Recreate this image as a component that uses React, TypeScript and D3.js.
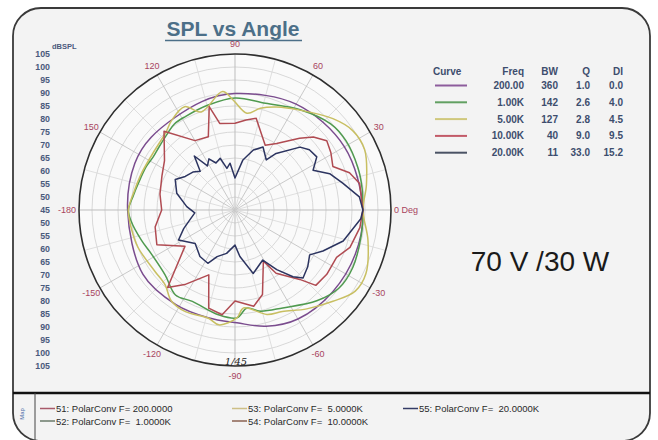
import React from "react";
import * as d3 from "d3";

const W = 658;
const H = 440;
const cx = 235;
const cy = 210;
const R = 156;
const font = "'Liberation Sans', Arial, sans-serif";

// radial dB ticks (center = 45, outer ring = 105)
const dbTicks = [45, 50, 55, 60, 65, 70, 75, 80, 85, 90, 95, 100, 105];
const angleLabels = [
  { a: 90, t: "90" },
  { a: 60, t: "60" },
  { a: 30, t: "30" },
  { a: 0, t: "0 Deg" },
  { a: -30, t: "-30" },
  { a: -60, t: "-60" },
  { a: -90, t: "-90" },
  { a: -120, t: "-120" },
  { a: -150, t: "-150" },
  { a: -180, t: "-180" },
  { a: 150, t: "150" },
  { a: 120, t: "120" },
];

// table at top right
const freqLabels = ["200.00", "1.00K", "5.00K", "10.00K", "20.00K"];
const bwValues = ["360", "142", "127", "40", "11"];
const qValues = ["1.0", "2.6", "2.8", "9.0", "33.0"];
const diValues = ["0.0", "4.0", "4.5", "9.5", "15.2"];
const curveColors = ["#7a4c8e", "#4f9a4f", "#c8bf62", "#b04b52", "#2c3460"];
const tableColors = ["#8d5c9c", "#62a062", "#d0c87c", "#c25a68", "#4a5264"];

// bottom legend
const legendLabels = [
  "51: PolarConv F= 200.0000",
  "52: PolarConv F=  1.0000K",
  "53: PolarConv F=  5.0000K",
  "54: PolarConv F=  10.0000K",
  "55: PolarConv F=  20.0000K",
];
const legendColors = ["#a85a6a", "#6a7a6a", "#cdbf86", "#8a6050", "#343c66"];

// [angle deg (ccw from 0 Deg), dBSPL]
const spl200 = [
  [0, 94.2], [30, 93.6], [60, 92.0], [90, 89.8], [107, 88.6], [139, 87.7], [155, 87.5],
  [180, 86.3], [215, 88.2], [238, 87.9], [256, 87.7], [271, 88.4], [285, 91.3],
  [300, 93.4], [320, 94.0], [340, 94.3],
];
const spl1k = [
  [0, 94.2], [10, 94.6], [19, 95.0], [32, 95.3], [42, 94.5], [57, 91.0], [74, 87.7],
  [90, 88.1], [104, 86.7], [118, 85.7], [125, 85.5], [131, 84.3], [140, 83.0], [147, 82.5],
  [154, 83.0], [165, 83.6], [172, 84.5], [180, 86.0], [186, 85.2], [198, 82.8], [208, 81.3],
  [223, 81.7], [235, 84.9], [245, 83.8], [261, 85.8], [271, 86.5], [277, 83.0], [284, 85.1],
  [296, 86.9], [312, 92.0], [323, 95.0], [334, 95.4], [349, 94.5],
];
const spl5k = [
  [0, 94.2], [11, 96.5], [25, 100.0], [34, 99.6], [43, 96.5], [57, 90.8], [68, 87.7],
  [76, 85.3], [83, 82.5], [91, 87.3], [96, 90.8], [109, 84.9], [116, 89.2], [125, 87.3],
  [132, 84.9], [143, 83.5], [158, 83.6], [170, 84.5], [180, 86.0], [190, 85.5], [201, 85.0],
  [217, 83.8], [227, 84.4], [235, 87.7], [244, 88.5], [256, 87.8], [262, 89.6], [271, 86.5],
  [275, 82.8], [287, 87.0], [295, 88.1], [306, 92.0], [317, 96.5], [326, 100.8],
  [334, 101.0], [347, 97.5],
];
const spl10k = [
  [0, 94.2], [12, 94.0], [18, 91.3], [24, 86.2], [31, 88.0], [37, 89.2], [43, 86.2],
  [48, 82.1], [58, 75.2], [65, 72.5], [77, 81.2], [83, 79.9], [90, 78.4], [100, 78.8],
  [104, 86.0], [110, 75.0], [120, 75.8], [132, 85.8], [145, 78.1], [155, 76.0], [168, 74.5],
  [180, 73.2], [192, 76.4], [204, 77.9], [216, 68.8], [229, 84.5], [236, 79.6], [248, 71.9],
  [255, 84.1], [263, 85.6], [270, 80.0], [281, 82.7], [288, 79.2], [299, 67.5], [303, 74.0],
  [313, 81.5], [317, 87.5], [325, 88.1], [335, 88.1], [342, 91.5], [352, 93.5],
];
const spl20k = [
  [0, 94.2], [6, 93.1], [14, 87.7], [21, 84.0], [27, 78.7], [33, 82.5], [39, 81.8],
  [44, 79.8], [54, 71.9], [58, 67.7], [66, 71.5], [73, 69.1], [81, 64.5], [90, 57.3],
  [96, 63.1], [101, 61.3], [106, 65.7], [112, 64.5], [117, 67.1], [122, 65.0], [127, 71.0],
  [132, 65.0], [138, 66.8], [146, 68.1], [153, 70.8], [164, 68.3], [176, 63.6], [184, 60.5],
  [192, 62.7], [200, 66.0], [208, 69.6], [220, 65.0], [233, 67.4], [243, 68.0], [249, 64.2],
  [259, 62.0], [270, 58.5], [276, 63.0], [286, 70.4], [299, 67.0], [305, 73.0], [311, 79.0],
  [315, 82.0], [322, 80.5], [329, 78.5], [335, 82.3], [344, 88.3], [356, 93.5],
];

const series = [
  { data: spl200, smooth: true },
  { data: spl1k, smooth: true },
  { data: spl5k, smooth: true },
  { data: spl10k, smooth: false },
  { data: spl20k, smooth: false },
];

const rScale = d3.scaleLinear().domain([45, 105]).range([0, R]);
const rad = (a: number) => (a * Math.PI) / 180;

export default function App() {
  const rings = dbTicks.slice(1);
  const spokes = d3.range(0, 360, 15);

  const paths = series.map((s, i) => {
    const gen = d3
      .lineRadial<number[]>()
      .angle((d) => rad(90 - d[0]))
      .radius((d) => rScale(d[1]))
      .curve(s.smooth ? d3.curveCatmullRomClosed.alpha(0.5) : d3.curveLinearClosed);
    return (
      <path
        key={i}
        d={gen(s.data) || ""}
        fill="none"
        stroke={curveColors[i]}
        strokeWidth={1.5}
        strokeLinejoin="round"
      />
    );
  });

  const leftTicks = [
    ...dbTicks.slice().reverse().map((v) => ({ v, y: cy - rScale(v) })),
    ...dbTicks.slice(1).map((v) => ({ v, y: cy + rScale(v) })),
  ];

  const tableX = { curve: 433, freq: 524, bw: 558, q: 590, di: 623 };
  const rowY = (i: number) => 89 + i * 16.8;
  const tableFill = "#3d4d6d";

  return (
    <svg
      width={W}
      height={H}
      style={{ position: "absolute", left: 0, top: 0 }}
      fontFamily={font}
    >
      <rect x={0} y={0} width={W} height={H} fill="#ffffff" />
      <rect x={13} y={8} width={637} height={433} rx={28} fill="#f3f3f3" stroke="#3a3a3a" strokeWidth={1.8} />

      {/* title */}
      <text x={233} y={36} textAnchor="middle" fontSize={21} fontWeight="bold" fill="#4c6f88">
        SPL vs Angle
      </text>
      <line x1={165} x2={302} y1={40.5} y2={40.5} stroke="#4c6f88" strokeWidth={1.6} />

      {/* left dB axis */}
      <text x={52} y={49} fontSize={7.5} fontWeight="bold" fill="#4a5a7c">dBSPL</text>
      {leftTicks.map((t, i) => (
        <text key={i} x={50} y={t.y} dy="0.35em" textAnchor="end" fontSize={8.8} fontWeight="bold" fill="#4a5a7c">
          {t.v}
        </text>
      ))}

      {/* polar grid */}
      <g transform={`translate(${cx},${cy})`}>
        <circle r={R} fill="#fafafa" />
        {rings.slice(0, -1).map((v) => (
          <circle key={v} r={rScale(v)} fill="none" stroke="#cfcfcf" strokeWidth={0.8} />
        ))}
        {spokes.map((a) => (
          <line
            key={a}
            x1={0}
            y1={0}
            x2={R * Math.cos(rad(a))}
            y2={-R * Math.sin(rad(a))}
            stroke={a % 30 === 0 ? "#bdbdbd" : "#d8d8d8"}
            strokeWidth={a % 90 === 0 ? 1 : 0.8}
          />
        ))}
        <circle r={rScale(105)} fill="none" stroke="#2e2e2e" strokeWidth={1.6} />
        {paths}
        {angleLabels.map((l, i) => {
          let anchor = "middle";
          let rr = R + 10;
          if (l.a === 0) {
            anchor = "start";
            rr = R + 3;
          } else if (l.a === -180) {
            anchor = "end";
            rr = R + 3;
          }
          return (
            <text
              key={i}
              x={rr * Math.cos(rad(l.a))}
              y={-rr * Math.sin(rad(l.a))}
              dy="0.35em"
              textAnchor={anchor}
              fontSize={9}
              fill="#a8445e"
            >
              {l.t}
            </text>
          );
        })}
      </g>
      <text x={236} y={365} textAnchor="middle" fontSize={10} fontStyle="italic" fontFamily="'DejaVu Serif', serif" fill="#222">
        1/45
      </text>

      {/* curve table */}
      <g fontSize={10} fontWeight="bold" fill={tableFill}>
        <text x={tableX.curve} y={75}>Curve</text>
        <text x={tableX.freq} y={75} textAnchor="end">Freq</text>
        <text x={tableX.bw} y={75} textAnchor="end">BW</text>
        <text x={tableX.q} y={75} textAnchor="end">Q</text>
        <text x={tableX.di} y={75} textAnchor="end">DI</text>
        {freqLabels.map((f, i) => (
          <g key={f}>
            <line x1={435} x2={467} y1={rowY(i) - 3.5} y2={rowY(i) - 3.5} stroke={tableColors[i]} strokeWidth={2} />
            <text x={tableX.freq} y={rowY(i)} textAnchor="end">{f}</text>
            <text x={tableX.bw} y={rowY(i)} textAnchor="end">{bwValues[i]}</text>
            <text x={tableX.q} y={rowY(i)} textAnchor="end">{qValues[i]}</text>
            <text x={tableX.di} y={rowY(i)} textAnchor="end">{diValues[i]}</text>
          </g>
        ))}
      </g>

      <text x={540} y={271} textAnchor="middle" fontSize={28} fill="#1a1a1a">70 V /30 W</text>

      {/* bottom legend */}
      <line x1={13} x2={650} y1={393} y2={393} stroke="#111" strokeWidth={2.5} />
      <line x1={35} x2={35} y1={393} y2={441} stroke="#444" strokeWidth={1} />
      <text transform="translate(24,414) rotate(-90)" fontSize={6} fill="#4a6aa8" textAnchor="middle">Map</text>
      {legendLabels.map((l, i) => {
        const col = Math.floor(i / 2);
        const row = i % 2;
        const x = [40, 232, 403][col];
        const y = 412 + row * 12.5;
        return (
          <g key={l}>
            <line x1={x} x2={x + 15} y1={y - 3.5} y2={y - 3.5} stroke={legendColors[i]} strokeWidth={1.5} />
            <text x={x + 16} y={y} fontSize={9.5} fill="#2a2a2a" style={{ whiteSpace: "pre" }}>
              {l}
            </text>
          </g>
        );
      })}
    </svg>
  );
}
